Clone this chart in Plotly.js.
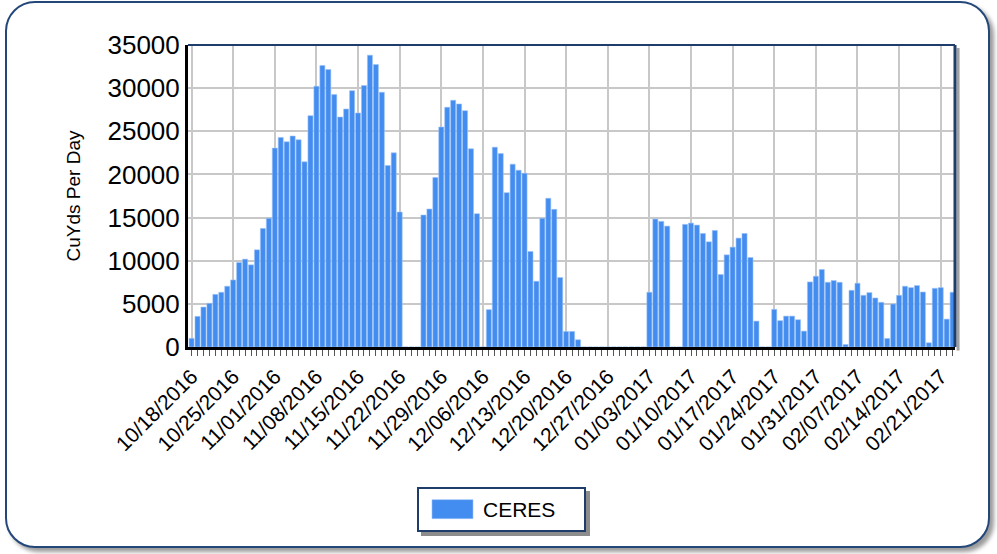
<!DOCTYPE html>
<html>
<head>
<meta charset="utf-8">
<script src="https://cdn.plot.ly/plotly-3.0.1.min.js"></script>
<style>
  html, body { margin: 0; padding: 0; background: #ffffff; }
  #wrap { position: relative; width: 997px; height: 554px; overflow: hidden; }
  #frame { position: absolute; left: 5px; top: 1px; width: 981px; height: 543px;
           border: 2px solid #24477a; border-radius: 30px; background: #ffffff;
           box-shadow: 4px 4px 4px #9a9a9a; }
  #chart { position: absolute; left: 0; top: 0; width: 997px; height: 554px; }
</style>
</head>
<body>
<div id="wrap">
  <div id="frame"></div>
  <div id="chart"></div>
</div>
<script>
// Daily categories (10/18/2016 .. 02/23/2017)
const dates = [
  "2016-10-18","2016-10-19","2016-10-20","2016-10-21","2016-10-22","2016-10-23","2016-10-24",
  "2016-10-25","2016-10-26","2016-10-27","2016-10-28","2016-10-29","2016-10-30","2016-10-31",
  "2016-11-01","2016-11-02","2016-11-03","2016-11-04","2016-11-05","2016-11-06","2016-11-07",
  "2016-11-08","2016-11-09","2016-11-10","2016-11-11","2016-11-12","2016-11-13","2016-11-14",
  "2016-11-15","2016-11-16","2016-11-17","2016-11-18","2016-11-19","2016-11-20","2016-11-21",
  "2016-11-22","2016-11-23","2016-11-24","2016-11-25","2016-11-26","2016-11-27","2016-11-28",
  "2016-11-29","2016-11-30","2016-12-01","2016-12-02","2016-12-03","2016-12-04","2016-12-05",
  "2016-12-06","2016-12-07","2016-12-08","2016-12-09","2016-12-10","2016-12-11","2016-12-12",
  "2016-12-13","2016-12-14","2016-12-15","2016-12-16","2016-12-17","2016-12-18","2016-12-19",
  "2016-12-20","2016-12-21","2016-12-22","2016-12-23","2016-12-24","2016-12-25","2016-12-26",
  "2016-12-27","2016-12-28","2016-12-29","2016-12-30","2016-12-31","2017-01-01","2017-01-02",
  "2017-01-03","2017-01-04","2017-01-05","2017-01-06","2017-01-07","2017-01-08","2017-01-09",
  "2017-01-10","2017-01-11","2017-01-12","2017-01-13","2017-01-14","2017-01-15","2017-01-16",
  "2017-01-17","2017-01-18","2017-01-19","2017-01-20","2017-01-21","2017-01-22","2017-01-23",
  "2017-01-24","2017-01-25","2017-01-26","2017-01-27","2017-01-28","2017-01-29","2017-01-30",
  "2017-01-31","2017-02-01","2017-02-02","2017-02-03","2017-02-04","2017-02-05","2017-02-06",
  "2017-02-07","2017-02-08","2017-02-09","2017-02-10","2017-02-11","2017-02-12","2017-02-13",
  "2017-02-14","2017-02-15","2017-02-16","2017-02-17","2017-02-18","2017-02-19","2017-02-20",
  "2017-02-21","2017-02-22","2017-02-23"
];

// CERES, cubic yards per day
const ceres = [
  1000, 3550, 4630, 5060, 6100, 6340, 7040,
  7770, 9790, 10180, 9520, 11260, 13740, 14910,
  23050, 24290, 23780, 24450, 24020, 21460, 26810,
  30220, 32620, 32160, 29250, 26650, 27580, 29710,
  27120, 30300, 33820, 32740, 29520, 21030, 22500,
  15640, 0, 0, 0, 15290, 15990, 19640,
  25490, 27780, 28590, 28170, 27390, 22970, 15450,
  0, 4330, 23160, 22420, 17890, 21190, 20490,
  20140, 11070, 7620, 14910, 17230, 15950, 8050,
  1800, 1800, 840, 0, 0, 0, 0,
  0, 0, 0, 0, 0, 0, 0,
  6340, 14830, 14560, 14010, 0, 0, 14210,
  14360, 14130, 13160, 12190, 13510, 8400, 10680,
  11570, 12620, 13160, 10370, 3000, 0, 0,
  4360, 3050, 3580, 3580, 3160, 1840, 7540,
  8200, 8980, 7500, 7700, 7500, 290, 6570,
  7390, 5990, 6300, 5680, 5180, 990, 4980,
  5990, 7040, 6880, 7120, 6370, 490, 6800,
  6880, 3230, 6340
];

const tickDates = [
  "2016-10-18","2016-10-25","2016-11-01","2016-11-08","2016-11-15","2016-11-22",
  "2016-11-29","2016-12-06","2016-12-13","2016-12-20","2016-12-27","2017-01-03",
  "2017-01-10","2017-01-17","2017-01-24","2017-01-31","2017-02-07","2017-02-14","2017-02-21"
];
const tickLabels = [
  "10/18/2016","10/25/2016","11/01/2016","11/08/2016","11/15/2016","11/22/2016",
  "11/29/2016","12/06/2016","12/13/2016","12/20/2016","12/27/2016","01/03/2017",
  "01/10/2017","01/17/2017","01/24/2017","01/31/2017","02/07/2017","02/14/2017","02/21/2017"
];

const FONT = "Liberation Sans, Arial, Helvetica, sans-serif";
const NAVY = "#1f3d6b";

// pixel -> paper helpers for decorative shapes (plot area 188..955 x 45..347)
const px = v => (v - 188) / 767;
const py = v => (347 - v) / 302;

const trace = {
  type: "bar",
  name: "CERES",
  x: dates,
  y: ceres,
  marker: { color: "#438cf0", line: { color: "#9cc2f6", width: 0.6 } },
  hoverinfo: "x+y"
};

const layout = {
  width: 997, height: 554,
  margin: { l: 188, r: 42, t: 45, b: 207 },
  paper_bgcolor: "rgba(0,0,0,0)",
  plot_bgcolor: "#ffffff",
  font: { family: FONT, color: "#000000" },
  bargap: 0.15,
  showlegend: true,
  legend: {
    orientation: "h",
    x: px(417), xanchor: "left",
    y: py(487), yanchor: "top",
    bgcolor: "#ffffff",
    bordercolor: NAVY, borderwidth: 2,
    font: { family: FONT, size: 21, color: "#000000" },
    itemwidth: 54,
    entrywidth: 96, entrywidthmode: "pixels"
  },
  xaxis: {
    type: "date",
    range: ["2016-10-17 09:36", "2017-02-23 09:36"],
    tickmode: "array",
    tickvals: tickDates,
    ticktext: tickLabels,
    tickangle: -45,
    tickfont: { family: FONT, size: 21, color: "#000000" },
    ticks: "outside", ticklen: 6, tickcolor: "#555555", tickwidth: 1,
    minor: { dtick: 86400000, tick0: "2016-10-18", ticks: "outside", ticklen: 6, tickcolor: "#555555", tickwidth: 1, showgrid: false },
    showgrid: true, gridcolor: "#c8c8c8", gridwidth: 2,
    showline: true, linecolor: "#000000", linewidth: 3,
    zeroline: false, fixedrange: true
  },
  yaxis: {
    range: [0, 35000],
    tickmode: "linear", tick0: 0, dtick: 5000,
    tickformat: "d",
    tickfont: { family: FONT, size: 26, color: "#000000" },
    ticks: "",
    showgrid: true, gridcolor: "#c8c8c8", gridwidth: 2,
    showline: true, linecolor: "#000000", linewidth: 3,
    zeroline: false, fixedrange: true,
    title: { text: "CuYds Per Day", font: { family: FONT, size: 19, color: "#000000" }, standoff: 22 }
  },
  shapes: [
    // plot-area shadow on the right
    { type: "line", xref: "paper", yref: "paper", x0: 1.004, x1: 1.004, y0: 0.99, y1: -0.012,
      line: { color: "#a0a0a0", width: 3 } },
    { type: "line", xref: "paper", yref: "paper", x0: 0, x1: 1, y0: 1, y1: 1,
      line: { color: NAVY, width: 2 } },
    { type: "line", xref: "paper", yref: "paper", x0: 1, x1: 1, y0: 0, y1: 1,
      line: { color: NAVY, width: 3 } }
  ]
};

Plotly.newPlot("chart", [trace], layout, { displayModeBar: false, staticPlot: true }).then(gd => {
  // widen the legend swatch to the reference's wide rectangle
  gd.querySelectorAll(".legend .legendpoints path").forEach(p => {
    p.setAttribute("d", "M22,9.5H-19V-9.5H22Z");
  });
  // drop shadow under the legend box, matched to its drawn size
  const bg = gd.querySelector(".legend .bg");
  if (bg) {
    const shadow = bg.cloneNode(false);
    shadow.setAttribute("class", "legendshadow");
    shadow.style.fill = "#8c8c8c";
    shadow.style.stroke = "#8c8c8c";
    shadow.setAttribute("transform", "translate(4,4)");
    bg.parentNode.insertBefore(shadow, bg);
  }
});
</script>
</body>
</html>
